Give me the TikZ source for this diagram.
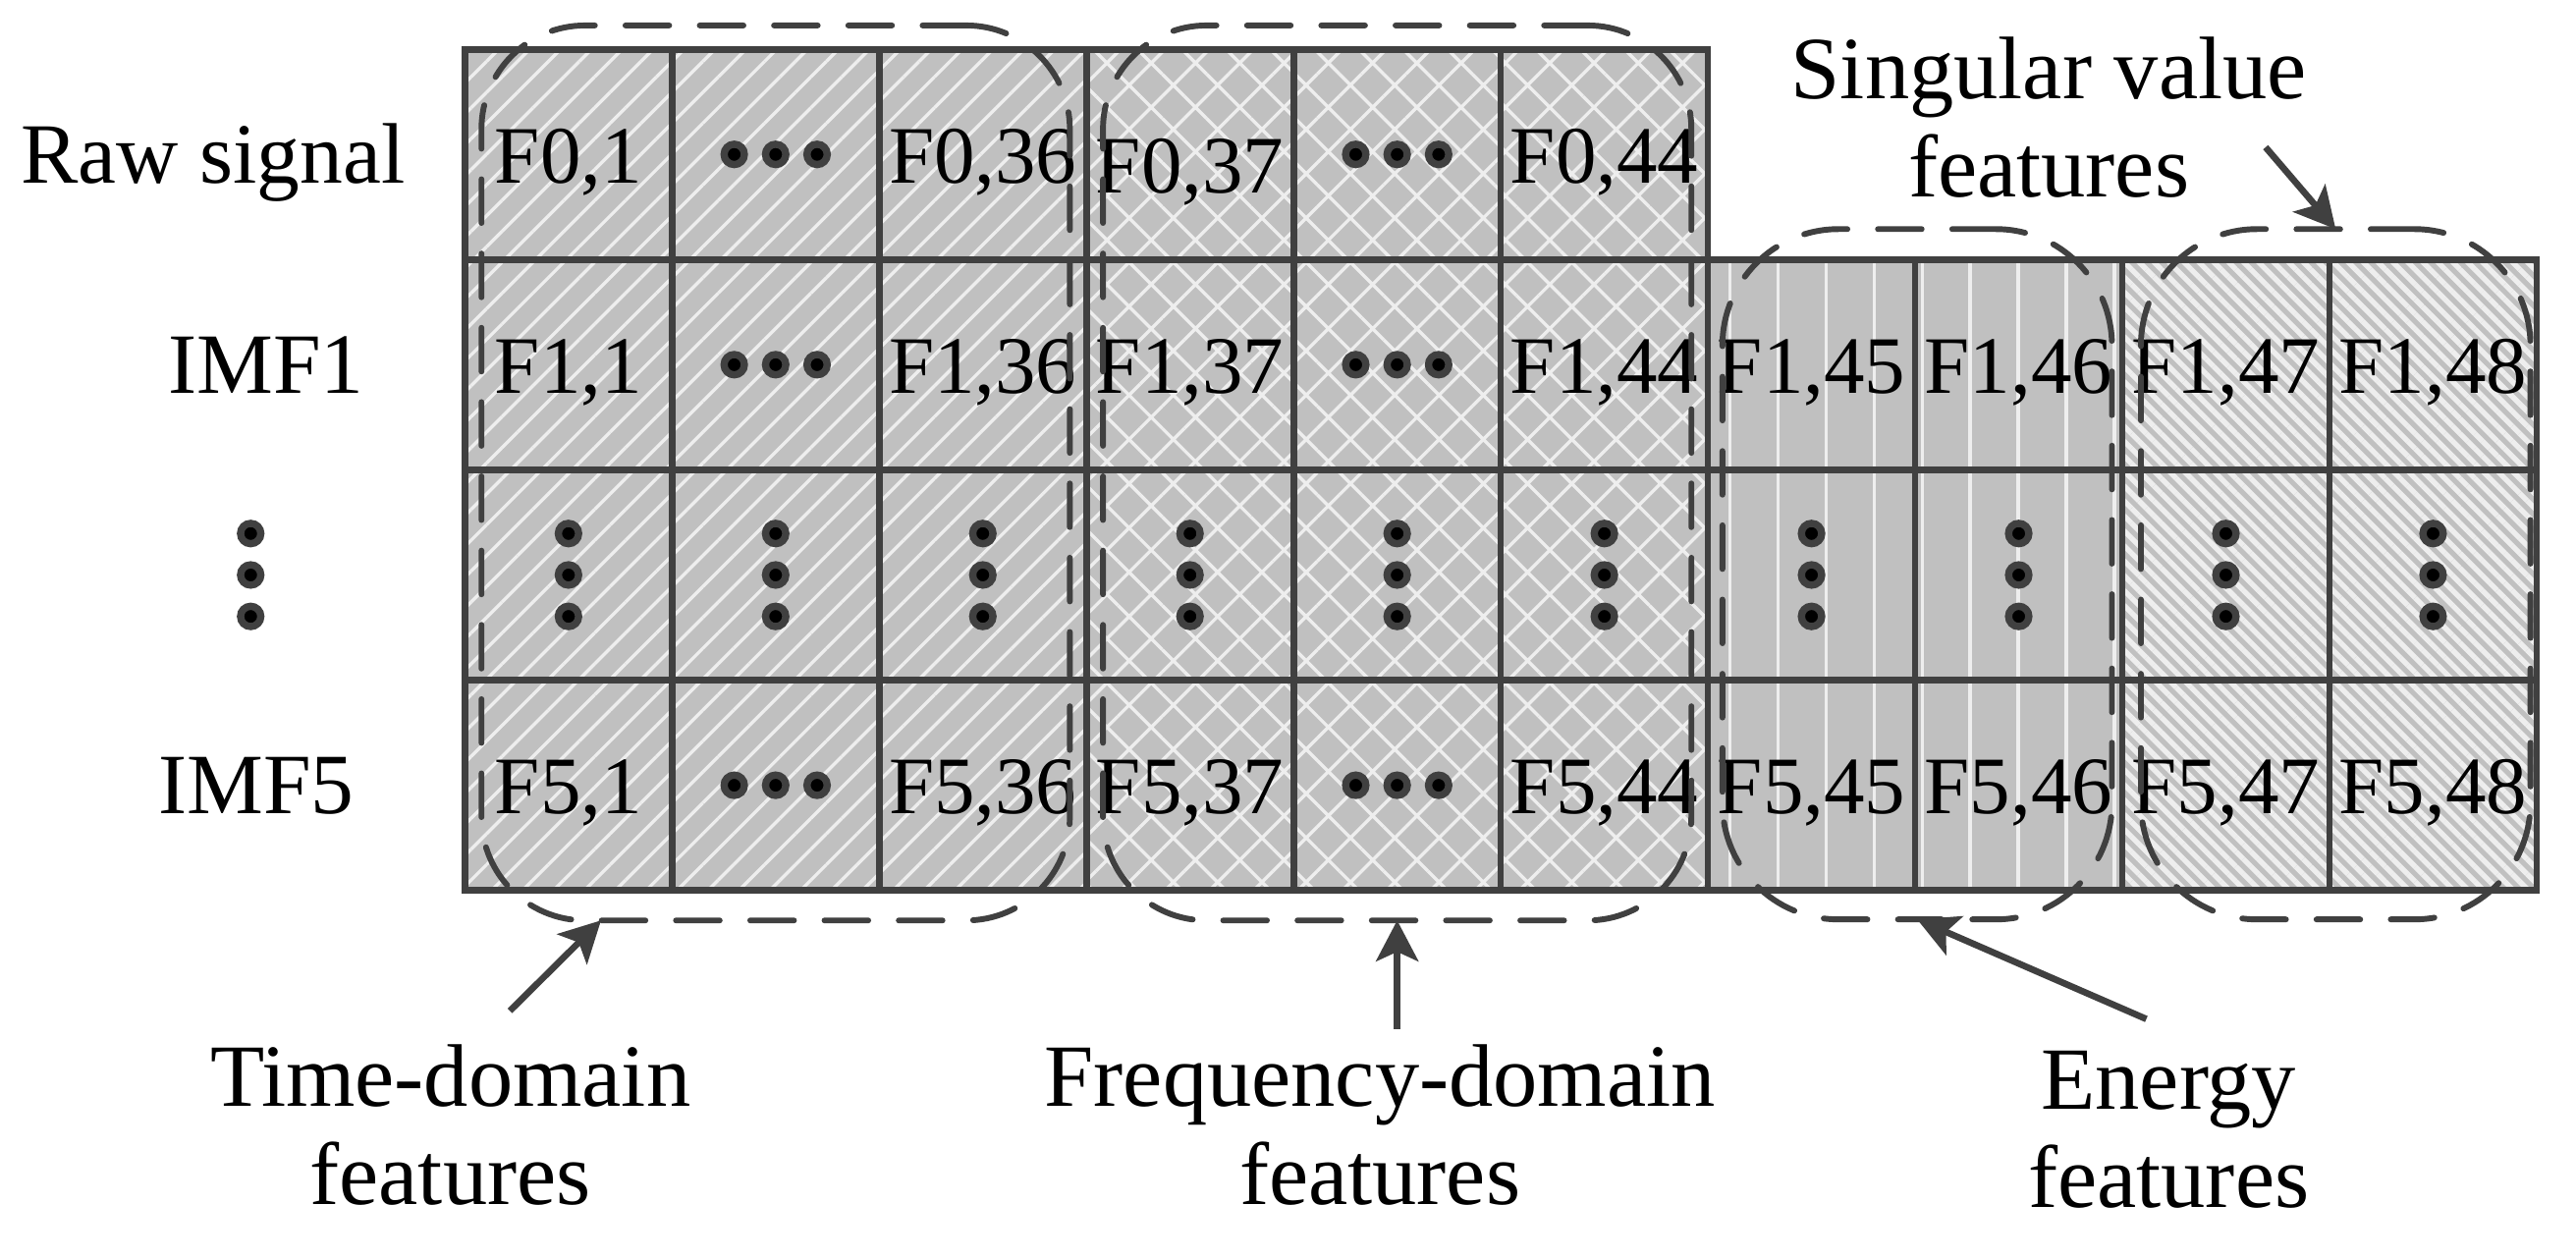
\documentclass[tikz,border=0pt]{standalone}
\usepackage{fontspec}
\setmainfont{Liberation Serif}
\usepackage{xcolor}
\usepackage{tikz}
\usetikzlibrary{arrows.meta, patterns.meta, calc}
\definecolor{fglinegray}{RGB}{64,64,64}
\definecolor{fgcell}{RGB}{192,192,192}
\definecolor{fgstripe}{RGB}{238,238,238}
\newcommand{\cellfont}{\fontsize{11.2}{13}\selectfont}
\newcommand{\rowfont}{\fontsize{11.8}{13}\selectfont}
\newcommand{\tagfont}{\fontsize{12.2}{13.5}\selectfont}
% three dots across / down a node
\newcommand{\hdotsat}[1]{%
  \draw[dotmark] ([xshift=-0.2cm]#1.center) circle (0.049)
    (#1.center) circle (0.049)
    ([xshift=0.2cm]#1.center) circle (0.049);}
\newcommand{\vdotsat}[1]{%
  \draw[dotmark] ([yshift=0.2cm]#1.center) circle (0.049)
    (#1.center) circle (0.049)
    ([yshift=-0.2cm]#1.center) circle (0.049);}
\tikzset{
  cellbase/.style={draw=fglinegray,line width=0.9pt,minimum width=1cm,minimum height=1.015cm,
    inner sep=0pt,outer sep=0pt,font=\cellfont,text height=8.5pt,text depth=0.6pt,
    preaction={fill=fgcell},pattern color=fgstripe},
  tcell/.style={cellbase,pattern={Lines[angle=45,distance=3pt,line width=0.45pt]}},
  fcell/.style={cellbase,pattern={Hatch[angle=45,distance=4.3pt,line width=0.45pt]}},
  ecell/.style={cellbase,pattern={Lines[angle=90,distance=6.6pt,line width=0.5pt]}},
  scell/.style={cellbase,pattern={Lines[angle=-45,distance=1.45pt,line width=0.72pt]}},
  rowtag/.style={font=\rowfont,inner sep=0pt,text height=8.5pt,text depth=0.6pt},
  featuretag/.style={font=\tagfont,align=center,inner sep=2pt},
  groupbox/.style={draw=fglinegray,line width=0.8pt,dash pattern=on 6pt off 4.2pt,line cap=round,
    rounded corners=0.5cm,inner sep=0pt,outer sep=0pt},
  dotmark/.style={draw=fglinegray,fill=black,line width=1pt},
  featarrow/.style={draw=fglinegray,line width=0.9pt,-{Stealth[length=5.6pt,width=5.8pt,inset=1.3pt]}}
}

\begin{document}
\begin{tikzpicture}
\useasboundingbox (-2.244,0.238) rectangle (10.19,-5.837);
% Row labels
\node[rowtag] (raw) at (-1.216,-0.5075) {Raw signal};
\node[rowtag] (imf1) at (-0.96,-1.5225) {IMF1};
\node[rowtag] (imfdots) at (-1.034,-2.5375) {};
\node[rowtag] (imf5) at (-1.007,-3.5525) {IMF5};
\vdotsat{imfdots}
% Raw signal row
\node[tcell] (c00) at (0.5,-0.5075) {F0,1};
\node[tcell] (c01) at (1.5,-0.5075) {};
\node[tcell] (c02) at (2.5,-0.5075) {F0,36};
\node[fcell] (c03) at (3.5,-0.5075) {\raisebox{-1.4pt}{F0,37}};
\node[fcell] (c04) at (4.5,-0.5075) {};
\node[fcell] (c05) at (5.5,-0.5075) {F0,44};
\hdotsat{c01}
\hdotsat{c04}
% IMF1 row
\node[tcell] (c10) at (0.5,-1.5225) {F1,1};
\node[tcell] (c11) at (1.5,-1.5225) {};
\node[tcell] (c12) at (2.5,-1.5225) {F1,36};
\node[fcell] (c13) at (3.5,-1.5225) {F1,37};
\node[fcell] (c14) at (4.5,-1.5225) {};
\node[fcell] (c15) at (5.5,-1.5225) {F1,44};
\node[ecell] (c16) at (6.5,-1.5225) {F1,45};
\node[ecell] (c17) at (7.5,-1.5225) {F1,46};
\node[scell] (c18) at (8.5,-1.5225) {F1,47};
\node[scell] (c19) at (9.5,-1.5225) {F1,48};
\hdotsat{c11}
\hdotsat{c14}
% skipped rows
\node[tcell] (c20) at (0.5,-2.5375) {};
\node[tcell] (c21) at (1.5,-2.5375) {};
\node[tcell] (c22) at (2.5,-2.5375) {};
\node[fcell] (c23) at (3.5,-2.5375) {};
\node[fcell] (c24) at (4.5,-2.5375) {};
\node[fcell] (c25) at (5.5,-2.5375) {};
\node[ecell] (c26) at (6.5,-2.5375) {};
\node[ecell] (c27) at (7.5,-2.5375) {};
\node[scell] (c28) at (8.5,-2.5375) {};
\node[scell] (c29) at (9.5,-2.5375) {};
\vdotsat{c20} \vdotsat{c21} \vdotsat{c22} \vdotsat{c23} \vdotsat{c24}
\vdotsat{c25} \vdotsat{c26} \vdotsat{c27} \vdotsat{c28} \vdotsat{c29}
% IMF5 row
\node[tcell] (c30) at (0.5,-3.5525) {F5,1};
\node[tcell] (c31) at (1.5,-3.5525) {};
\node[tcell] (c32) at (2.5,-3.5525) {F5,36};
\node[fcell] (c33) at (3.5,-3.5525) {F5,37};
\node[fcell] (c34) at (4.5,-3.5525) {};
\node[fcell] (c35) at (5.5,-3.5525) {F5,44};
\node[ecell] (c36) at (6.5,-3.5525) {F5,45};
\node[ecell] (c37) at (7.5,-3.5525) {F5,46};
\node[scell] (c38) at (8.5,-3.5525) {F5,47};
\node[scell] (c39) at (9.5,-3.5525) {F5,48};
\hdotsat{c31}
\hdotsat{c34}
% Feature groups
\node[groupbox,minimum width=2.84cm,minimum height=4.32cm] (tbox) at (1.5,-2.045) {};
\node[groupbox,minimum width=2.84cm,minimum height=4.32cm] (fbox) at (4.5,-2.045) {};
\node[groupbox,rounded corners=0.56cm,minimum width=1.88cm,minimum height=3.332cm] (ebox) at (7.01,-2.534) {};
\node[groupbox,rounded corners=0.56cm,minimum width=1.88cm,minimum height=3.332cm] (svbox) at (9.03,-2.534) {};
% Group names
\node[featuretag] (svtext) at (7.645,-0.329) {Singular value\\features};
\node[featuretag] (tdtext) at (-0.07,-5.194) {Time-domain\\features};
\node[featuretag] (fdtext) at (4.417,-5.194) {Frequency-domain\\features};
\node[featuretag] (entext) at (8.224,-5.213) {Energy\\features};
\draw[featarrow] ([xshift=-0.275cm,yshift=-0.144cm]svtext.east) -- (svbox.north);
\draw[featarrow] ([xshift=0.287cm,yshift=0.087cm]tdtext.north) -- ([xshift=-0.843cm]tbox.south);
\draw[featarrow] ([xshift=0.083cm]fdtext.north) -- (fbox.south);
\draw[featarrow] ([xshift=-0.108cm,yshift=0.075cm]entext.north) -- (ebox.south);
\end{tikzpicture}
\end{document}
